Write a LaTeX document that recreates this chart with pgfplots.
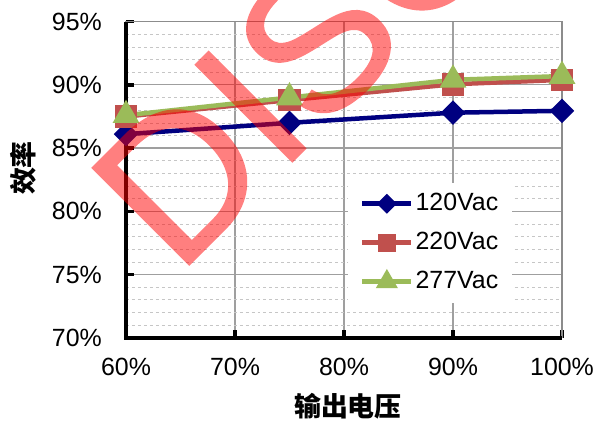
\documentclass[border=0pt]{standalone}
\usepackage{pgfplots}
\pgfplotsset{compat=1.18}
\usepackage{fontspec}
\setmainfont{Liberation Sans}
\newfontfamily\cjk{Noto Sans CJK SC}
\newfontfamily\wmfont{Liberation Sans}[FakeBold=0.8]
\definecolor{c120}{HTML}{000080}
\definecolor{c220}{HTML}{C0504D}
\definecolor{c277}{HTML}{9BBB59}
\begin{document}
\begin{tikzpicture}
\useasboundingbox (-126bp,-86.3bp) rectangle (469bp,337.7bp);
\begin{axis}[
  at={(0,0)}, anchor=south west,
  scale only axis, width=436bp, height=316bp,
  xmin=60, xmax=100, ymin=70, ymax=95,
  xtick={60,70,80,90,100}, ytick={70,75,80,85,90,95},
  minor y tick num=4,
  xticklabel={\pgfmathprintnumber{\tick}\%},
  yticklabel={\pgfmathprintnumber{\tick}\%},
  /pgf/number format/assume math mode=true,
  tick label style={font=\fontsize{25}{29}\selectfont},
  xticklabel style={inner sep=0pt, anchor=north, yshift=-20bp},
  yticklabel style={inner sep=0pt, anchor=east, xshift=-24bp},
  xtick pos=bottom, ytick pos=left, tick align=inside,
  major tick length=8bp, minor tick length=0pt,
  major tick style={black, line width=3.5bp},
  grid=both,
  major grid style={draw=gray!75, line width=1.2bp},
  minor grid style={draw=gray!45, dashed, line width=0.6bp},
  axis line style={draw=gray!90, line width=1.5bp},
  clip=false,
  xlabel={\cjk\bfseries 输出电压},
  ylabel={\cjk\bfseries 效率},
  label style={font=\fontsize{27}{30}\selectfont},
  xlabel style={at={(rel axis cs:0.509,-0.216)}, anchor=center},
  ylabel style={at={(rel axis cs:-0.236,0.537)}, anchor=center},
  legend style={at={(rel axis cs:0.509,0.11)}, anchor=south west, fill=white, draw=none,
    font=\fontsize{25}{29}\selectfont, row sep=13bp, inner xsep=12bp, inner ysep=8bp,
    nodes={inner sep=2bp, text height=18bp, text depth=4bp}},
  legend cell align=left,
  legend image code/.code={\draw[mark repeat=2, mark phase=2, #1, every mark/.append style={scale=0.75}] plot coordinates {(0bp,0bp) (24.5bp,0bp) (49bp,0bp)};},
]
\draw[black, line width=4bp] (rel axis cs:0,1) -- (rel axis cs:0,0) -- (rel axis cs:1,0);
\addplot[c120, line width=4.5bp, mark=square*, mark size=6.4bp, mark options={rotate=45, solid}]
  coordinates {(60,86.1) (75,87.0) (90,87.8) (100,87.95)};
\addlegendentry{120Vac}
\addplot[c220, line width=4.5bp, mark=square*, mark size=9bp, mark options={solid}]
  coordinates {(60,87.5) (75,88.8) (90,90.05) (100,90.4)};
\addlegendentry{220Vac}
\addplot[c277, line width=4.5bp, mark=triangle*, mark size=11bp, mark options={solid}]
  coordinates {(60,87.6) (75,89.0) (90,90.4) (100,90.7)};
\addlegendentry{277Vac}
\end{axis}
\begin{scope}[transparency group, opacity=0.5]
\node[anchor=base west, inner sep=0pt, rotate=45, text=red,
  font=\wmfont\fontsize{200}{200}\selectfont] at (51.5bp,61.2bp) {DISCONTINUED};
\end{scope}
\end{tikzpicture}
\end{document}
